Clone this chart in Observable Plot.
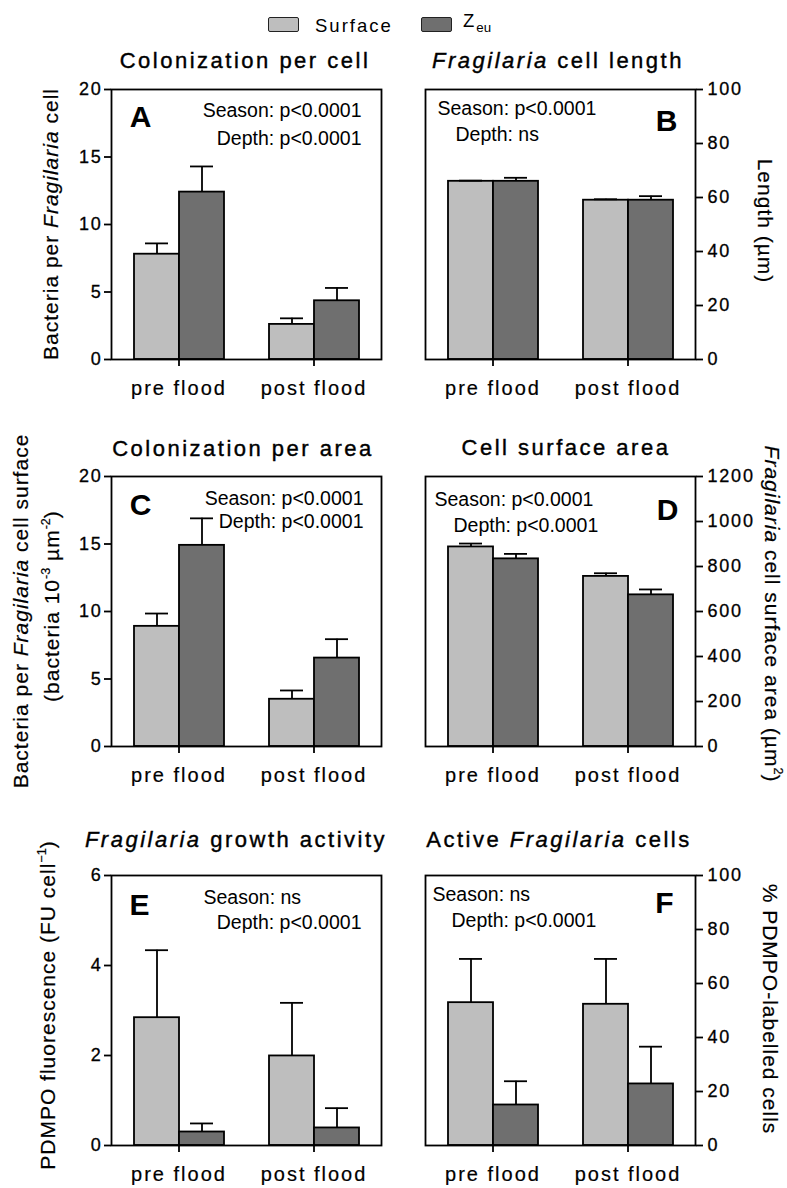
<!DOCTYPE html>
<html>
<head>
<meta charset="utf-8">
<script src="https://cdn.jsdelivr.net/npm/d3@7"></script>
<script src="https://cdn.jsdelivr.net/npm/@observablehq/plot@0.6"></script>
<style>
  body { margin: 0; background: #fff; }
  #fig { position: relative; width: 787px; height: 1188px; overflow: hidden; background: #fff;
         font-family: "Liberation Sans", Arial, sans-serif; color: #000; }
  .panel { position: absolute; }
  .ov { position: absolute; white-space: nowrap; line-height: 1; transform: translate(-50%, -50%); }
  .title { font-size: 22px; letter-spacing: 2.5px; -webkit-text-stroke: 0.4px #000; }
  .ylab { font-size: 21px; letter-spacing: 1px; -webkit-text-stroke: 0.2px #000; }
  .rotL { transform: translate(-50%, -50%) rotate(-90deg); }
  .rotR { transform: translate(-50%, -50%) rotate(90deg); }
  .ylab sup { font-size: 0.6em; vertical-align: 0.7em; letter-spacing: 0; }
  .sw { position: absolute; border: 1.5px solid #222; border-radius: 2px; box-sizing: border-box; }
  .leg { position: absolute; font-size: 18.5px; letter-spacing: 2px; line-height: 1; transform: translateY(-50%); }
  #fig svg [aria-label="y-axis tick label"] text { font-size: 18px; letter-spacing: 1.8px; stroke: #000; stroke-width: 0.3px; }
  #fig svg [aria-label="fx-axis tick label"] text { font-size: 20px; letter-spacing: 2px; stroke: #000; stroke-width: 0.2px; }
</style>
</head>
<body>
<div id="fig"></div>
<script>
// ---------- data ----------
const periods = ["pre flood", "post flood"];
const depths = ["Surface", "Zeu"];
// order of values: pre flood Surface, pre flood Zeu, post flood Surface, post flood Zeu
const colonCellMean = [7.8, 12.4, 2.6, 4.35];
const colonCellErr  = [0.8, 1.9, 0.45, 0.95];
const lengthMean    = [66, 66, 59, 59];
const lengthErr     = [0.25, 1.3, 0.35, 1.5];
const colonAreaMean = [8.9, 14.9, 3.5, 6.55];
const colonAreaErr  = [0.95, 2.0, 0.65, 1.4];
const areaMean      = [887, 834, 756, 674];
const areaErr       = [15, 22, 14, 24];
const activityMean  = [2.84, 0.30, 1.99, 0.39];
const activityErr   = [1.5, 0.19, 1.18, 0.44];
const activeMean    = [52.9, 15.0, 52.3, 22.8];
const activeErr     = [16.2, 8.8, 16.8, 13.8];

const ticks20 = [0, 5, 10, 15, 20];
const ticks100 = [0, 20, 40, 60, 80, 100];
const ticks1200 = [0, 200, 400, 600, 800, 1000, 1200];
const ticks6 = [0, 2, 4, 6];

const colors = ["#bebebe", "#6f6f6f"];
const fig = document.getElementById("fig");

function rows(mean, err) {
  return periods.flatMap((p, i) => depths.map((d, j) => ({period: p, depth: d, value: mean[i * 2 + j], err: err[i * 2 + j]})));
}

function note(txt, anchor, dx, dy, opts = {}) {
  const isRight = anchor.endsWith("right");
  return Plot.text([txt], {text: d => d, frameAnchor: anchor, dx, dy, facet: "super",
    textAnchor: isRight ? "end" : "start", lineAnchor: "middle",
    fontSize: 19.5, fill: "#000", ...opts});
}

function panel(cfg) {
  const data = rows(cfg.mean, cfg.err);
  const right = cfg.side === "right";
  const chart = Plot.plot({
    width: right ? 397 : 393,
    height: 400,
    marginTop: 80,
    marginBottom: 50,
    marginLeft: right ? 34 : 110,
    marginRight: right ? 92 : 12,
    style: {background: "transparent", fontFamily: "'Liberation Sans', Arial, sans-serif", fontSize: "17px", color: "#000", overflow: "visible"},
    fx: {domain: periods, padding: 0, label: null},
    x: {domain: depths, paddingInner: 0, paddingOuter: 0.5, axis: null},
    y: {domain: cfg.domain, label: null},
    color: {domain: depths, range: colors},
    marks: [
      Plot.barY(data, {fx: "period", x: "depth", y: "value", fill: "depth", stroke: "#000", strokeWidth: 1.8}),
      Plot.ruleX(data, {fx: "period", x: "depth", y1: "value", y2: d => d.value + d.err, stroke: "#000", strokeWidth: 1.8}),
      Plot.tickY(data, {fx: "period", x: "depth", y: d => d.value + d.err, insetLeft: 11, insetRight: 11, stroke: "#000", strokeWidth: 1.8}),
      Plot.axisFx({anchor: "bottom", tickSize: 7, tickPadding: 14, label: null, fontSize: 20, strokeWidth: 1.8}),
      Plot.axisY({anchor: right ? "right" : "left", ticks: cfg.ticks, tickFormat: "d", tickSize: 7,
                  tickPadding: right ? 5 : 2, label: null, fontSize: 18, strokeWidth: 1.8}),
      Plot.frame({facet: "super", stroke: "#000", strokeWidth: 1.8}),
      ...cfg.notes
    ]
  });
  chart.classList.add("panel");
  chart.style.left = (right ? 390 : 0) + "px";
  chart.style.top = cfg.top + "px";
  fig.appendChild(chart);
}

panel({mean: colonCellMean, err: colonCellErr, domain: [0, 20], ticks: ticks20, side: "left", top: 9,
  notes: [note("Season: p<0.0001", "top-right", -20, 21), note("Depth: p<0.0001", "top-right", -20, 49),
          note("A", "top-left", 29, 28, {textAnchor: "middle", fontSize: 30, fontWeight: "bold"})]});
panel({mean: lengthMean, err: lengthErr, domain: [0, 100], ticks: ticks100, side: "right", top: 9,
  notes: [note("Season: p<0.0001", "top-left", 12, 19), note("Depth: ns", "top-left", 30, 45),
          note("B", "top-right", -18, 32, {fontSize: 30, fontWeight: "bold"})]});
panel({mean: colonAreaMean, err: colonAreaErr, domain: [0, 20], ticks: ticks20, side: "left", top: 396,
  notes: [note("Season: p<0.0001", "top-right", -18, 22), note("Depth: p<0.0001", "top-right", -18, 45),
          note("C", "top-left", 29, 29, {textAnchor: "middle", fontSize: 30, fontWeight: "bold"})]});
panel({mean: areaMean, err: areaErr, domain: [0, 1200], ticks: ticks1200, side: "right", top: 396,
  notes: [note("Season: p<0.0001", "top-left", 9, 23), note("Depth: p<0.0001", "top-left", 28, 49),
          note("D", "top-right", -17, 34, {fontSize: 30, fontWeight: "bold"})]});
panel({mean: activityMean, err: activityErr, domain: [0, 6], ticks: ticks6, side: "left", top: 795,
  notes: [note("Season: ns", "top-left", 92, 22), note("Depth: p<0.0001", "top-right", -20, 47),
          note("E", "top-left", 28, 30, {textAnchor: "middle", fontSize: 30, fontWeight: "bold"})]});
panel({mean: activeMean, err: activeErr, domain: [0, 100], ticks: ticks100, side: "right", top: 795,
  notes: [note("Season: ns", "top-left", 7, 19), note("Depth: p<0.0001", "top-left", 26, 45),
          note("F", "top-right", -22, 28, {fontSize: 30, fontWeight: "bold"})]});

// ---------- titles, axis labels, legend (HTML text) ----------
function ov(html, cls, x, y) {
  const d = document.createElement("div");
  d.className = "ov " + cls;
  d.innerHTML = html;
  d.style.left = x + "px";
  d.style.top = y + "px";
  fig.appendChild(d);
}
ov("Colonization per cell", "title", 245, 61);
ov("<i>Fragilaria</i> cell length", "title", 558, 61);
ov("Colonization per area", "title", 243, 449);
ov("Cell surface area", "title", 566, 448);
ov("<i>Fragilaria</i> growth activity", "title", 236, 840);
ov("Active <i>Fragilaria</i> cells", "title", 559, 840);

ov("Bacteria per <i>Fragilaria</i> cell", "ylab rotL", 50, 224);
ov("Length (µm)", "ylab rotR", 765, 221);
ov("Bacteria per <i>Fragilaria</i> cell surface", "ylab rotL", 20, 611);
ov("(bacteria 10<sup>-3</sup> µm<sup>-2</sup>)", "ylab rotL", 51, 606);
ov("<i>Fragilaria</i> cell surface area (µm<sup>2</sup>)", "ylab rotR", 773, 614);
ov("PDMPO fluorescence (FU cell<sup>−1</sup>)", "ylab rotL", 47, 1005);
ov("% PDMPO-labelled cells", "ylab rotR", 770, 1009);

// legend
const legendItems = [
  {label: "Surface", color: colors[0], sx: 268, tx: 315},
  {label: "Z<sub style='font-size:0.72em;vertical-align:-0.35em;letter-spacing:0'>eu</sub>", color: colors[1], sx: 421, tx: 463}
];
legendItems.forEach(it => {
  const s = document.createElement("div");
  s.className = "sw";
  s.style.cssText = `left:${it.sx}px;top:17px;width:31px;height:15px;background:${it.color};`;
  fig.appendChild(s);
  const t = document.createElement("div");
  t.className = "leg";
  t.innerHTML = it.label;
  t.style.left = it.tx + "px";
  t.style.top = (it.label === "Surface" ? 26 : 23) + "px";
  fig.appendChild(t);
});
</script>
</body>
</html>
